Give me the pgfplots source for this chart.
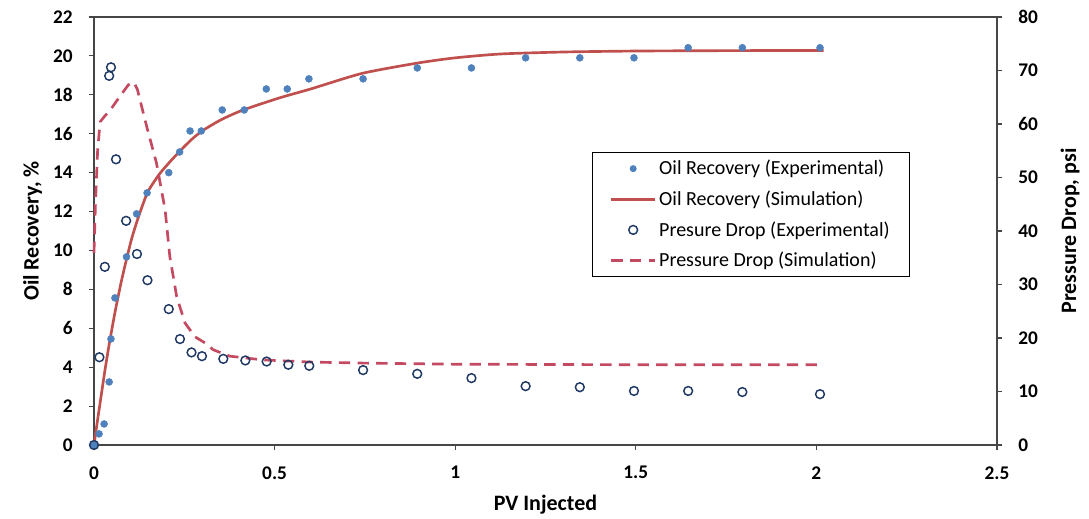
\documentclass[border=0pt]{standalone}
\usepackage{pgfplots}
\pgfplotsset{compat=1.18}
\usepackage{fontspec}
\setmainfont{Carlito}

\definecolor{oilblue}{RGB}{79,129,189}
\definecolor{simred}{RGB}{192,80,77}
\definecolor{dpred}{RGB}{196,74,98}
\definecolor{dpnavy}{RGB}{31,56,100}
\definecolor{axisgray}{RGB}{70,70,70}

% Oil recovery, experimental (PV, %)
\pgfplotstableread{
pv   rec
0     0
0.014 0.57
0.028 1.08
0.042 3.24
0.047 5.45
0.058 7.56
0.090 9.67
0.118 11.88
0.147 12.96
0.207 14.00
0.237 15.06
0.266 16.14
0.297 16.14
0.355 17.22
0.416 17.22
0.477 18.30
0.535 18.30
0.595 18.82
0.745 18.82
0.895 19.38
1.045 19.38
1.195 19.90
1.345 19.90
1.495 19.90
1.645 20.42
1.795 20.42
2.010 20.42
}\oilexp

% Oil recovery, simulation
\pgfplotstableread{
pv   rec
0     0
0.010 1.30
0.020 2.55
0.030 3.80
0.040 4.95
0.050 6.00
0.060 7.00
0.075 8.35
0.090 9.55
0.105 10.65
0.120 11.55
0.135 12.35
0.150 13.05
0.180 13.90
0.210 14.55
0.240 15.15
0.270 15.70
0.300 16.15
0.350 16.70
0.410 17.20
0.515 17.85
0.600 18.30
0.742 19.10
0.895 19.63
1.000 19.90
1.127 20.10
1.300 20.20
1.500 20.25
1.750 20.27
2.020 20.28
}\oilsim

% Pressure drop, experimental (PV, psi)
\pgfplotstableread{
pv   dp
0     0
0.015 16.4
0.030 33.3
0.042 69.0
0.047 70.6
0.061 53.4
0.089 41.9
0.119 35.7
0.148 30.8
0.207 25.4
0.238 19.8
0.270 17.3
0.299 16.6
0.358 16.1
0.419 15.8
0.478 15.6
0.538 15.0
0.596 14.8
0.745 14.0
0.895 13.3
1.045 12.5
1.195 11.0
1.345 10.8
1.495 10.1
1.645 10.1
1.795 9.9
2.010 9.5
}\dpexp

% Pressure drop, simulation
\pgfplotstableread{
pv   dp
0     35.9
0.004 45.0
0.010 55.0
0.017 60.4
0.030 61.5
0.044 62.5
0.070 65.0
0.095 67.3
0.110 67.8
0.120 66.5
0.146 59.5
0.173 52.7
0.197 43.9
0.210 35.2
0.229 27.7
0.252 22.8
0.280 20.2
0.307 19.1
0.330 17.8
0.376 16.6
0.468 15.9
0.600 15.5
0.750 15.3
1.000 15.1
1.500 15.0
2.020 15.0
}\dpsim

\pgfplotsset{
  duo/.style={
    scale only axis,
    width=677.25pt, height=321pt,
    xmin=0, xmax=2.5,
    tick align=outside,
    major tick length=4pt,
    axis line style={axisgray, line width=0.8pt},
    every tick/.style={axisgray, line width=0.8pt},
    tick label style={font=\bfseries\fontsize{14.5}{17}\selectfont},
    label style={font=\bfseries\fontsize{16.5}{19}\selectfont},
    /pgf/number format/assume math mode=true,
    clip=false,
  },
  legend image code/.code={%
    \draw[mark repeat=2, mark phase=2, #1]
      plot coordinates {(0pt,0pt) (16.5pt,0pt) (33pt,0pt)};},
}

\begin{document}
\begin{tikzpicture}
\begin{axis}[duo,
  ymin=0, ymax=22,
  ytick={0,2,...,22},
  xtick={0,0.5,1,1.5,2,2.5},
  xticklabels={0,0.5,1,1.5,2,2.5},
  xtick pos=bottom, ytick pos=left,
  xlabel={PV Injected},
  ylabel={Oil Recovery, \%},
  xlabel style={at={(axis description cs:0.5,-0.14)}, anchor=center},
  ylabel style={at={(axis description cs:-0.068,0.5)}, anchor=center, rotate=0},
  yticklabel style={xshift=-8.5pt},
  xticklabel style={yshift=-8.5pt},
]
\addplot[simred, line width=2pt, smooth, tension=0.4] table[x=pv, y=rec] {\oilsim};
\addplot[only marks, mark=*, mark size=2.6pt,
  mark options={draw=oilblue, fill=oilblue}] table[x=pv, y=rec] {\oilexp};
% fixes the page extent around the plot area
\path (axis description cs:-0.1041,-0.1729) rectangle (axis description cs:1.1019,1.0397);
\end{axis}

\begin{axis}[duo,
  ymin=0, ymax=80,
  ytick={0,10,...,80},
  axis x line=none,
  axis y line*=right,
  ylabel={Pressure Drop, psi},
  ylabel style={at={(axis description cs:1.081,0.5)}, anchor=center, rotate=0},
  yticklabel style={xshift=8.5pt},
  legend style={
    at={(axis description cs:0.5515,0.685)}, anchor=north west,
    draw=black, line width=0.8pt,
    font=\fontsize{15}{17}\selectfont,
    inner xsep=13pt, inner ysep=4pt,
    row sep=6.5pt,
    cells={anchor=west},
  },
]
\addlegendimage{only marks, mark=*, mark size=2.2pt, mark options={draw=oilblue, fill=oilblue}}
\addlegendentry{Oil Recovery (Experimental)}
\addlegendimage{simred, line width=2pt}
\addlegendentry{Oil Recovery (Simulation)}
\addplot[only marks, mark=o, mark size=3.3pt,
  mark options={draw=dpnavy, line width=1.1pt}] table[x=pv, y=dp] {\dpexp};
\addlegendentry{Presure Drop (Experimental)}
\addplot[dpred, line width=2pt, dash pattern=on 8.5pt off 5.5pt] table[x=pv, y=dp] {\dpsim};
\addlegendentry{Pressure Drop (Simulation)}
\end{axis}
\end{tikzpicture}
\end{document}
